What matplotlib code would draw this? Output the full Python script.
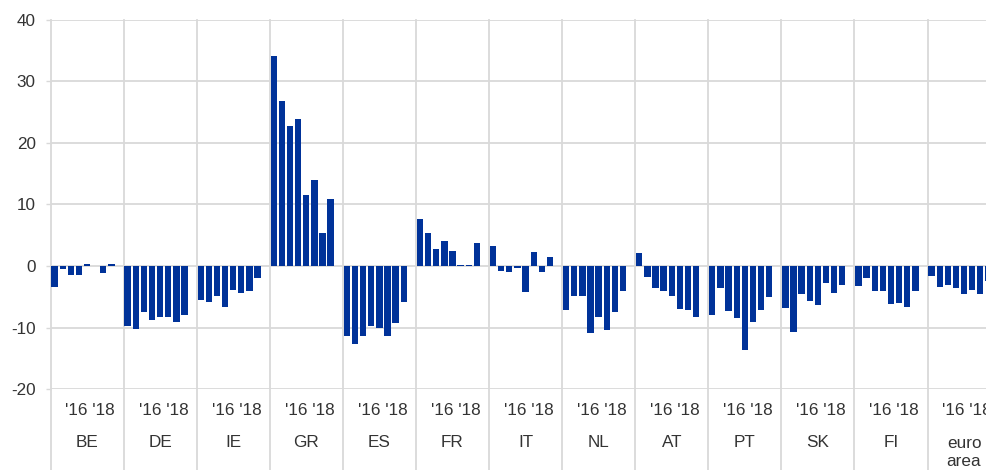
import matplotlib
matplotlib.use("Agg")
import matplotlib.pyplot as plt
from matplotlib.lines import Line2D
import numpy as np

plt.rcParams['font.family'] = ['Liberation Sans', 'DejaVu Sans']

countries = ["BE", "DE", "IE", "GR", "ES", "FR", "IT", "NL", "AT", "PT", "SK", "FI", "euro\narea"]
year_labels = "'16 '18"

BE = [-3.4, -0.5, -1.5, -1.4, 0.3, 0.0, -1.2, 0.3]
DE = [-9.8, -10.2, -7.4, -8.7, -8.2, -8.3, -9.0, -8.0]
IE = [-5.5, -5.8, -4.8, -6.7, -3.9, -4.3, -4.1, -2.0]
GR = [34.0, 26.8, 22.8, 23.8, 11.6, 13.9, 5.4, 10.8]
ES = [-11.3, -12.6, -11.4, -9.7, -10.0, -11.3, -9.2, -5.9]
FR = [7.7, 5.3, 2.8, 4.1, 2.4, 0.1, 0.1, 3.7]
IT = [3.2, -0.8, -0.9, -0.4, -4.2, 2.2, -1.0, 1.4]
NL = [-7.2, -4.8, -4.9, -10.9, -8.3, -10.3, -7.5, -4.1]
AT = [2.1, -1.7, -3.5, -4.0, -4.9, -6.9, -7.2, -8.3]
PT = [-8.0, -3.5, -7.3, -8.4, -13.7, -9.1, -7.1, -5.1]
SK = [-6.8, -10.7, -4.6, -5.7, -6.4, -2.8, -4.3, -3.0]
FI = [-3.2, -1.9, -4.0, -4.0, -6.1, -6.0, -6.6, -4.0]
EA = [-1.6, -3.4, -3.1, -3.5, -4.6, -3.9, -4.6, -2.5]

series = [BE, DE, IE, GR, ES, FR, IT, NL, AT, PT, SK, FI, EA]
yticks = [-20, -10, 0, 10, 20, 30, 40]

GRID = '#d9d9d9'
BAR = '#003299'
TXT = '#333333'
FS = 12.3
slots = 9

fig = plt.figure(figsize=(9.86, 4.70), dpi=100)
ax = fig.add_axes([50.5 / 986, (470 - 389.3) / 470, 950.1 / 986, 369.8 / 470])
ax.set_xlim(-0.5, slots * len(series) - 0.5)
ax.set_ylim(-20, 40)

for g, vals in enumerate(series):
    xs = np.arange(len(vals)) + g * slots
    ax.bar(xs, vals, width=0.78, color=BAR, zorder=3)

# horizontal gridlines
for y in yticks:
    ax.axhline(y, color=GRID, lw=1.3, zorder=1)

# vertical separators, extending below the axes
trans = ax.get_xaxis_transform()
for g in range(len(series) + 1):
    x = g * slots - 0.5
    ax.add_line(Line2D([x, x], [1.0, -0.3], transform=trans, color=GRID,
                       lw=1.3, clip_on=False, zorder=1))

for s in ax.spines.values():
    s.set_visible(False)

ax.set_yticks(yticks)
ax.set_yticklabels([str(v) for v in yticks])
ax.tick_params(axis='y', length=3.6, width=1.0, color=GRID, pad=7,
               labelsize=FS, labelcolor=TXT)
ax.set_xticks([])

# category labels
for g, name in enumerate(countries):
    ax.text(g * slots + 4.4, -0.056, year_labels, transform=trans, ha='center',
            va='center', fontsize=FS, color=TXT, clip_on=False)
    if "\n" in name:
        ax.text(g * slots + 4.0, -0.125, name, transform=trans, ha='center',
                va='top', fontsize=FS, color=TXT, clip_on=False, linespacing=1.25)
    else:
        ax.text(g * slots + 4.0, -0.145, name, transform=trans, ha='center',
                va='center', fontsize=FS, color=TXT, clip_on=False)

fig.savefig("out.png", dpi=100)
